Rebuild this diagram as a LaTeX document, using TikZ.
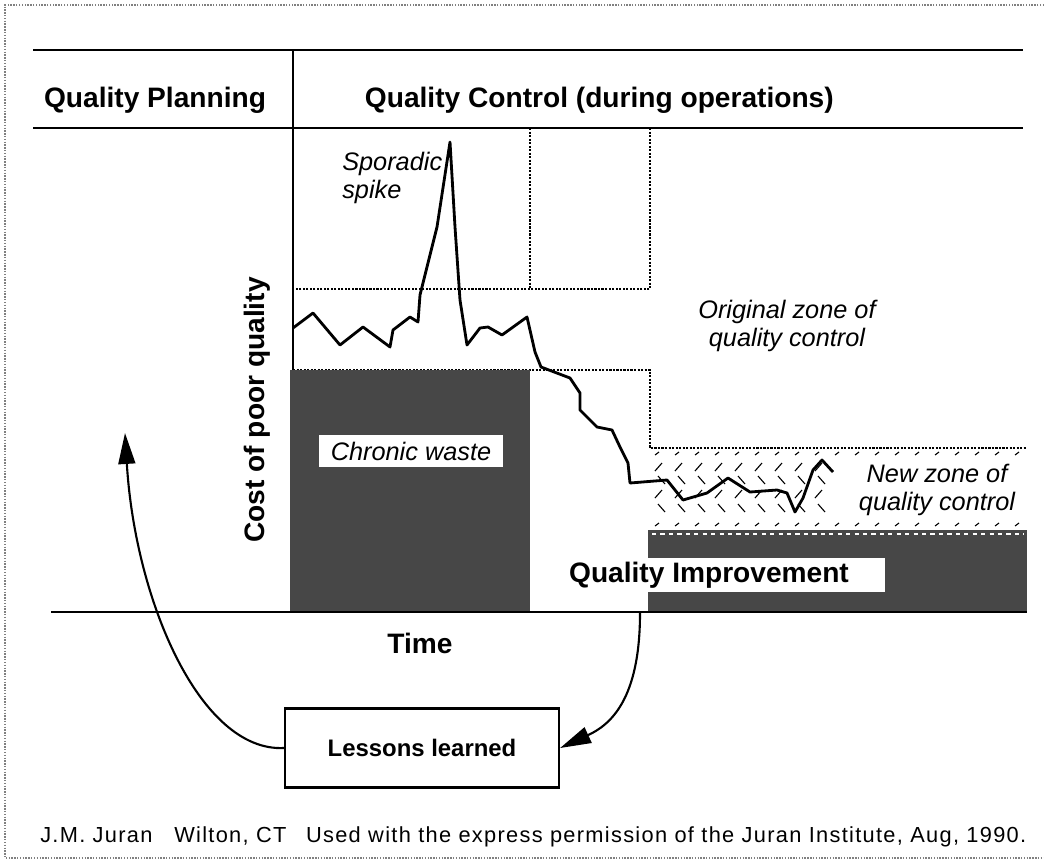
\documentclass[tikz,border=0pt]{standalone}
\usepackage{fontspec}
\setmainfont{Liberation Sans}
\usetikzlibrary{arrows.meta}

\begin{document}
\begin{tikzpicture}[x=0.025cm,y=-0.025cm,>={Triangle[length=22pt,width=12pt]},
	rule/.style={line width=2pt},
	zone/.style={densely dotted,line width=1.5pt},
	waste/.style={fill=black!72},
	hatch/.style={line width=0.8pt},
	head/.style={font=\bfseries\fontsize{20}{24}\selectfont},
	note/.style={font=\itshape\fontsize{18}{20}\selectfont,align=center,inner sep=0pt},
	tag/.style={fill=white,inner sep=0pt}]
	\useasboundingbox (0,0) rectangle (1044,864);
	% frame
	\draw[densely dotted,gray,line width=1pt] (1044,5)--(5,5)--(5,858)--(1044,858);
	% header
	\draw[rule] (33,50)--(1023,50) (33,128)--(1023,128);
	\draw[line width=1.2pt] (293,50)--(293,370);
	\node[head,anchor=base] (plan) at (155,107) {Quality Planning};
	\node[head,anchor=base west] (ctrl) at (360,107) {Quality Control (during operations)};
	% zones of control
	\draw[zone] (530,128)--(530,289) (650,128)--(650,289)--(293,289);
	\draw[zone] (293,370)--(650,370)--(650,448)--(1027,448);
	\fill[waste] (290,370) rectangle (530,612);
	\fill[waste] (648,530) rectangle (1027,612);
	\draw[white,dashed,line width=1pt] (652,534)--(1024,534);
	\foreach \i in {0,...,18}
	\draw[hatch] ({655+20*\i},455)--++(4,-3) ({655+20*\i},526)--++(4,-3);
	\foreach \y in {467,494}
	\foreach \i in {0,...,8}
	\draw[hatch] ({655+20*\i},{\y+4})--++(7,-8);
	\foreach \y in {480,508}
	\foreach \i in {0,...,8}
	\draw[hatch] ({658+20*\i},{\y-4})--++(7,8);
	\draw[rule] (51,612)--(1027,612);
	% cost curve
	\draw[line width=2pt,line join=round] plot coordinates {(293,328) (313,313) (340,345) (363,327)
		(390,347) (393,330) (410,317) (418,322) (420,295) (437,227) (450,142) (455,227)
		(460,300) (467,345) (480,328) (488,327) (502,335) (527,317) (535,352) (541,367)
		(570,378) (580,393) (580,410) (597,427) (612,430) (620,447) (628,463) (630,483)
		(667,480) (683,500) (707,493) (728,478) (750,492) (777,490) (787,493) (795,512)
		(803,498) (813,470) (822,460) (833,472)};
	% labels
	\node[note,align=left,anchor=west] (spike) at (342,178) {Sporadic\\ spike};
	\node[note] (orig) at (787,326) {Original zone of\\quality control};
	\node[note] (newzone) at (937,490) {New zone of\\quality control};
	\node[tag,font=\itshape\fontsize{18}{20}\selectfont,minimum width=4.575cm,minimum height=0.8cm] (chronic) at (411,451) {Chronic waste};
	\node[tag,head,minimum width=8.8cm,minimum height=0.85cm] (improve) at (709,575) {Quality Improvement};
	\node[head,rotate=90] (cost) at (257,410) {Cost of poor quality};
	\node[head,anchor=base] (time) at (420,653) {Time};
	\node[draw,line width=1.5pt,font=\bfseries\fontsize{17}{20}\selectfont,minimum width=6.85cm,minimum height=1.975cm] (lessons) at (422,748) {Lessons learned};
	\node[anchor=base west,inner sep=0pt,font=\fontsize{15.5}{18}\selectfont\addfontfeature{LetterSpace=6}] (credit) at (40,842)
		{J.M. Juran\hspace{1em}Wilton, CT\hspace{0.9em}Used with the express permission of the Juran Institute, Aug, 1990.};
	% feedback loop
	\coordinate (qi) at (640,613);
	\coordinate (plantop) at (125,433);
	\draw[->,line width=1.5pt] (lessons.west) .. controls (200,752) and (135,600) .. (plantop);
	\draw[->,line width=1.5pt] (qi) .. controls (640,700) and (610,725) .. (lessons.east);
\end{tikzpicture}
\end{document}
